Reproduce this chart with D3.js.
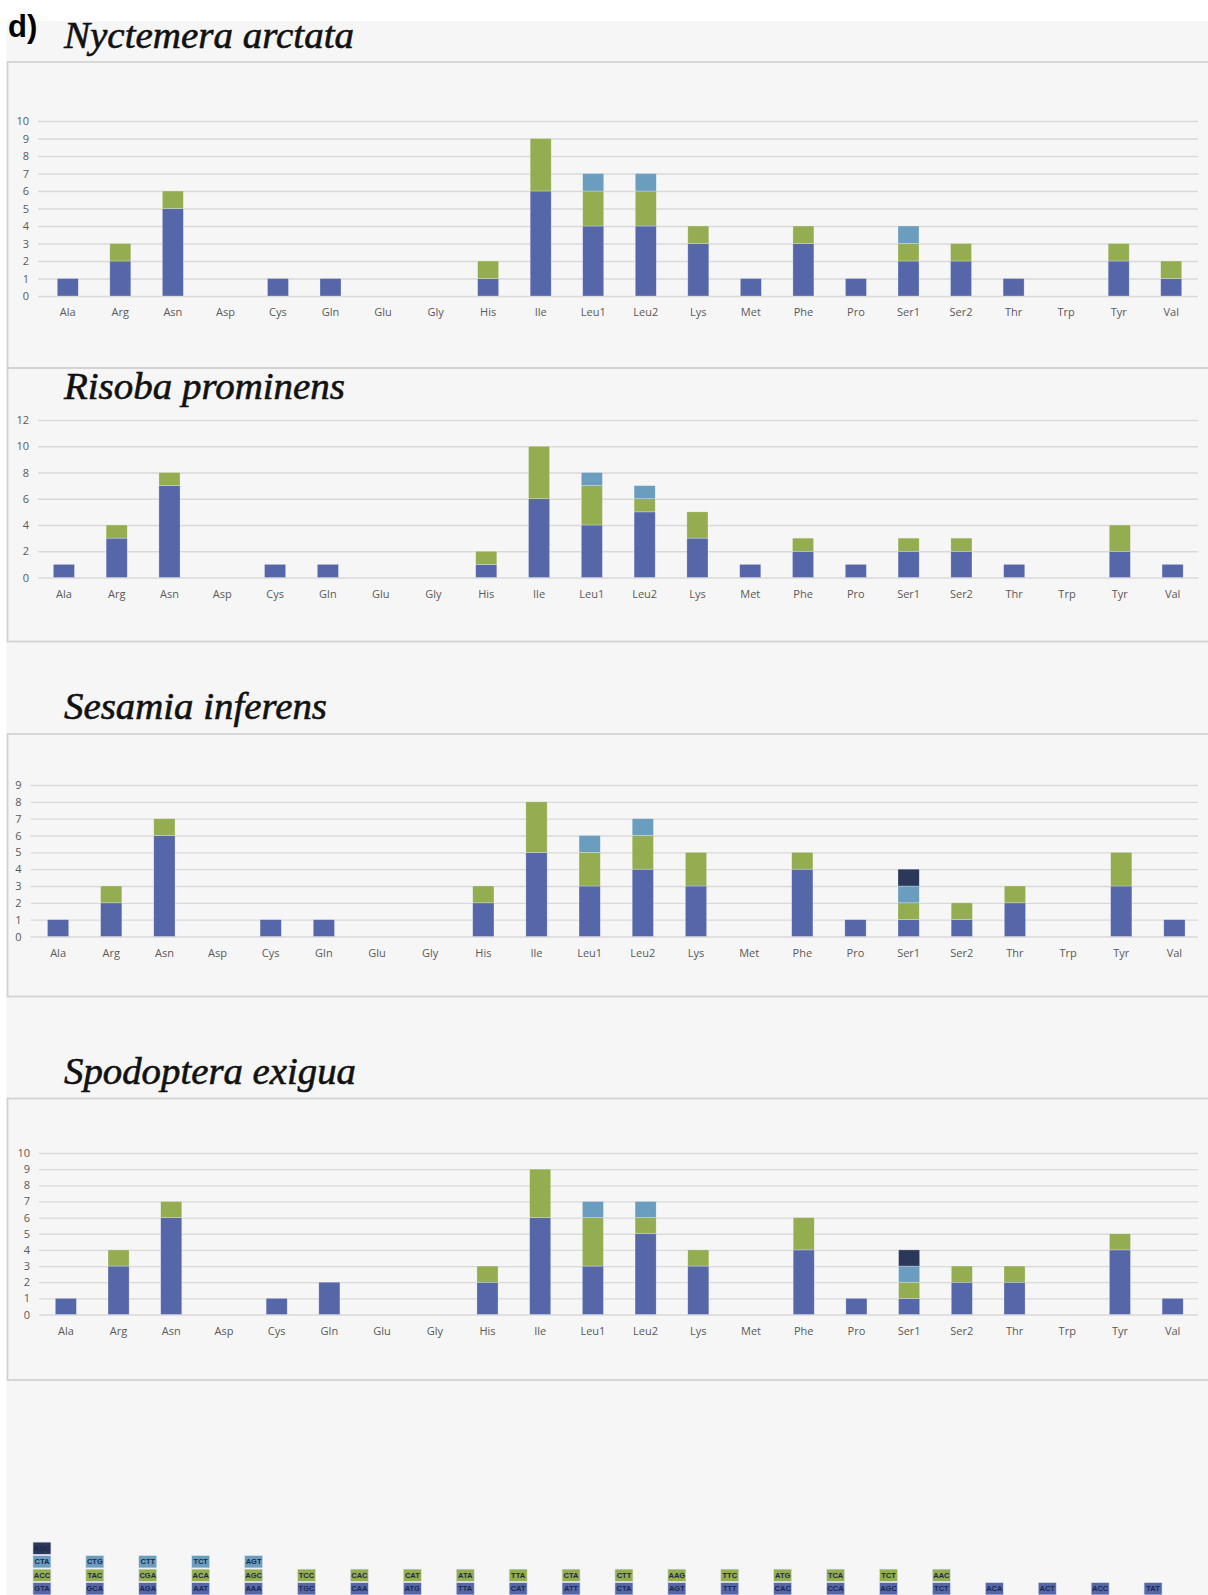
<!DOCTYPE html>
<html>
<head>
<meta charset="utf-8">
<script src="https://cdn.jsdelivr.net/npm/d3@7"></script>
<style>
  body { margin: 0; background: #fff; }
  svg { display: block; }
</style>
</head>
<body>
<div id="chart"></div>
<script>
/* CONSTANTS AND GLOBALS */
var W = 1208, H = 1595;

var categories = ["Ala", "Arg", "Asn", "Asp", "Cys", "Gln", "Glu", "Gly", "His", "Ile", "Leu1",
                  "Leu2", "Lys", "Met", "Phe", "Pro", "Ser1", "Ser2", "Thr", "Trp", "Tyr", "Val"];

// codon counts per amino acid, one array per stack layer (bottom -> top)
var nyctemera_c1 = [1, 2, 5, 0, 1, 1, 0, 0, 1, 6, 4, 4, 3, 1, 3, 1, 2, 2, 1, 0, 2, 1];
var nyctemera_c2 = [0, 1, 1, 0, 0, 0, 0, 0, 1, 3, 2, 2, 1, 0, 1, 0, 1, 1, 0, 0, 1, 1];
var nyctemera_c3 = [0, 0, 0, 0, 0, 0, 0, 0, 0, 0, 1, 1, 0, 0, 0, 0, 1, 0, 0, 0, 0, 0];
var nyctemera_c4 = [0, 0, 0, 0, 0, 0, 0, 0, 0, 0, 0, 0, 0, 0, 0, 0, 0, 0, 0, 0, 0, 0];

var risoba_c1 = [1, 3, 7, 0, 1, 1, 0, 0, 1, 6, 4, 5, 3, 1, 2, 1, 2, 2, 1, 0, 2, 1];
var risoba_c2 = [0, 1, 1, 0, 0, 0, 0, 0, 1, 4, 3, 1, 2, 0, 1, 0, 1, 1, 0, 0, 2, 0];
var risoba_c3 = [0, 0, 0, 0, 0, 0, 0, 0, 0, 0, 1, 1, 0, 0, 0, 0, 0, 0, 0, 0, 0, 0];
var risoba_c4 = [0, 0, 0, 0, 0, 0, 0, 0, 0, 0, 0, 0, 0, 0, 0, 0, 0, 0, 0, 0, 0, 0];

var sesamia_c1 = [1, 2, 6, 0, 1, 1, 0, 0, 2, 5, 3, 4, 3, 0, 4, 1, 1, 1, 2, 0, 3, 1];
var sesamia_c2 = [0, 1, 1, 0, 0, 0, 0, 0, 1, 3, 2, 2, 2, 0, 1, 0, 1, 1, 1, 0, 2, 0];
var sesamia_c3 = [0, 0, 0, 0, 0, 0, 0, 0, 0, 0, 1, 1, 0, 0, 0, 0, 1, 0, 0, 0, 0, 0];
var sesamia_c4 = [0, 0, 0, 0, 0, 0, 0, 0, 0, 0, 0, 0, 0, 0, 0, 0, 1, 0, 0, 0, 0, 0];

var spodoptera_c1 = [1, 3, 6, 0, 1, 2, 0, 0, 2, 6, 3, 5, 3, 0, 4, 1, 1, 2, 2, 0, 4, 1];
var spodoptera_c2 = [0, 1, 1, 0, 0, 0, 0, 0, 1, 3, 3, 1, 1, 0, 2, 0, 1, 1, 1, 0, 1, 0];
var spodoptera_c3 = [0, 0, 0, 0, 0, 0, 0, 0, 0, 0, 1, 1, 0, 0, 0, 0, 1, 0, 0, 0, 0, 0];
var spodoptera_c4 = [0, 0, 0, 0, 0, 0, 0, 0, 0, 0, 0, 0, 0, 0, 0, 0, 1, 0, 0, 0, 0, 0];

// codon strip at the bottom of the figure, each column bottom -> top
var codon_cols = [
  ["GTA", "ACC", "CTA", "AGC"], ["GCA", "TAC", "CTG"], ["AGA", "CGA", "CTT"], ["AAT", "ACA", "TCT"],
  ["AAA", "AGC", "AGT"], ["TGC", "TCC"], ["CAA", "CAC"], ["ATG", "CAT"], ["TTA", "ATA"],
  ["CAT", "TTA"], ["ATT", "CTA"], ["CTA", "CTT"], ["AGT", "AAG"], ["TTT", "TTC"], ["CAC", "ATG"],
  ["CCA", "TCA"], ["AGC", "TCT"], ["TCT", "AAC"], ["ACA"], ["ACT"], ["ACC"], ["TAT"]
];

var colors = ["#5667a9", "#93ad50", "#6a9dbe", "#2b3859"];
var layerKeys = ["c1", "c2", "c3", "c4"];

// panel layout (pixels) -- box = panel frame top/bottom, y0/ytop = value axis ends
var panels = [
  {title: "Nyctemera arctata", layers: [nyctemera_c1, nyctemera_c2, nyctemera_c3, nyctemera_c4],
   ymax: 10, step: 1, box: [62, 368], y0: 296, ytop: 121, x: [41.5, 1197.5], grid: [38, 1198],
   titleY: 48, titleW: 290, condensed: false},
  {title: "Risoba prominens", layers: [risoba_c1, risoba_c2, risoba_c3, risoba_c4],
   ymax: 12, step: 2, box: [368, 641.5], y0: 577.5, ytop: 420, x: [37.5, 1199], grid: [38, 1198],
   titleY: 399, titleW: 281, condensed: false},
  {title: "Sesamia inferens", layers: [sesamia_c1, sesamia_c2, sesamia_c3, sesamia_c4],
   ymax: 9, step: 1, box: [734, 996.5], y0: 936.5, ytop: 785, x: [31.5, 1201], grid: [30.5, 1198],
   titleY: 719, titleW: 263, condensed: true},
  {title: "Spodoptera exigua", layers: [spodoptera_c1, spodoptera_c2, spodoptera_c3, spodoptera_c4],
   ymax: 10, step: 1, box: [1098.5, 1380], y0: 1314.5, ytop: 1153, x: [39.5, 1199], grid: [39, 1198],
   titleY: 1084, titleW: 292, condensed: true}
];

/* HTML ELEMENTS */
var svg = d3.select("#chart").append("svg")
  .attr("width", W)
  .attr("height", H);

// light grey page background
svg.append("rect")
  .attr("x", 6.5).attr("y", 21)
  .attr("width", W).attr("height", H)
  .attr("fill", "#f6f6f6");

svg.append("text")
  .attr("x", 8)
  .attr("y", 37)
  .style("font-family", "Liberation Sans, Arial, sans-serif")
  .style("font-weight", "bold")
  .style("font-size", "31px")
  .attr("fill", "#000")
  .text("d)");

function draw_panel(p){
  // frame
  svg.append("rect")
    .attr("x", 7.5)
    .attr("y", p.box[0])
    .attr("width", W + 10)
    .attr("height", p.box[1] - p.box[0])
    .attr("fill", "none")
    .attr("stroke", "#d3d3d3")
    .attr("stroke-width", 1.8);

  // title (species names in italics)
  svg.append("text")
    .attr("x", 64)
    .attr("y", p.titleY)
    .attr("textLength", p.titleW)
    .attr("lengthAdjust", "spacingAndGlyphs")
    .style("font-family", "Liberation Serif, Times New Roman, serif")
    .style("font-style", "italic")
    .style("font-size", p.condensed ? "38px" : "38px")
    .attr("fill", "#111")
    .attr("stroke", "#111")
    .attr("stroke-width", 0.6)
    .text(p.title);

  // SCALES
  var x = d3.scaleBand()
    .domain(categories)
    .range(p.x)
    .paddingInner(0.6)
    .paddingOuter(0.3);

  var y = d3.scaleLinear()
    .domain([0, p.ymax])
    .range([p.y0, p.ytop]);

  // y axis with grid lines
  var gy = svg.append("g")
    .attr("transform", "translate(" + p.grid[0] + ",0)")
    .call(d3.axisLeft(y)
      .tickValues(d3.range(0, p.ymax + 0.001, p.step))
      .tickSize(-(p.grid[1] - p.grid[0]))
      .tickPadding(9));
  gy.select(".domain").remove();
  gy.selectAll("line").attr("stroke", "#d9d9d9").attr("stroke-width", 1.3);
  gy.selectAll("text")
    .attr("fill", "#595959")
    .style("font-family", "Open Sans, sans-serif")
    .style("font-size", "11px");

  // stacked data
  var rows = categories.map(function(c, i){
    var r = {cat: c};
    layerKeys.forEach(function(k, j){ r[k] = p.layers[j][i]; });
    return r;
  });
  var series = d3.stack().keys(layerKeys)(rows);

  svg.append("g")
    .selectAll("g")
    .data(series)
    .enter().append("g")
      .attr("fill", function(d, i){ return colors[i]; })
    .selectAll("rect")
    .data(function(d){ return d.filter(function(s){ return s[1] > s[0]; }); })
    .enter().append("rect")
      .attr("x", function(d){ return x(d.data.cat); })
      .attr("y", function(d){ return y(d[1]); })
      .attr("width", x.bandwidth())
      .attr("height", function(d){ return y(d[0]) - y(d[1]); })
      .attr("stroke", "rgba(255,255,255,0.45)")
      .attr("stroke-width", 0.6);

  // x axis (category labels only)
  var gx = svg.append("g")
    .attr("transform", "translate(0," + p.y0 + ")")
    .call(d3.axisBottom(x).tickSize(0).tickPadding(12.5));
  gx.select(".domain").remove();
  gx.selectAll("text")
    .attr("fill", "#595959")
    .style("font-family", "Open Sans, sans-serif")
    .style("font-size", "11px");
}

panels.forEach(draw_panel);

// codon strip at the bottom
var cx = d3.scaleBand()
  .domain(d3.range(codon_cols.length))
  .range([15.5, 1179.5])
  .paddingInner(0.66)
  .paddingOuter(0.33);

var cy = d3.scaleLinear()
  .domain([0, 4])
  .range([1595.5, 1541.5]);

var cells = [];
codon_cols.forEach(function(col, i){
  col.forEach(function(cod, j){ cells.push({col: i, row: j, codon: cod}); });
});

var strip = svg.append("g")
  .selectAll("g")
  .data(cells)
  .enter().append("g");

strip.append("rect")
  .attr("x", function(d){ return cx(d.col); })
  .attr("y", function(d){ return cy(d.row + 1) + 0.6; })
  .attr("width", cx.bandwidth())
  .attr("height", function(d){ return cy(d.row) - cy(d.row + 1) - 1.2; })
  .attr("fill", function(d){ return colors[d.row]; })
  .attr("stroke", "#dde3ee")
  .attr("stroke-width", 0.6);

strip.append("text")
  .attr("x", function(d){ return cx(d.col) + cx.bandwidth() / 2; })
  .attr("y", function(d){ return (cy(d.row) + cy(d.row + 1)) / 2 + 2.7; })
  .attr("text-anchor", "middle")
  .style("font-family", "Liberation Sans, Arial, sans-serif")
  .style("font-weight", "bold")
  .style("font-size", "7.5px")
  .attr("fill", "#1e2846")
  .text(function(d){ return d.codon; });
</script>
</body>
</html>
